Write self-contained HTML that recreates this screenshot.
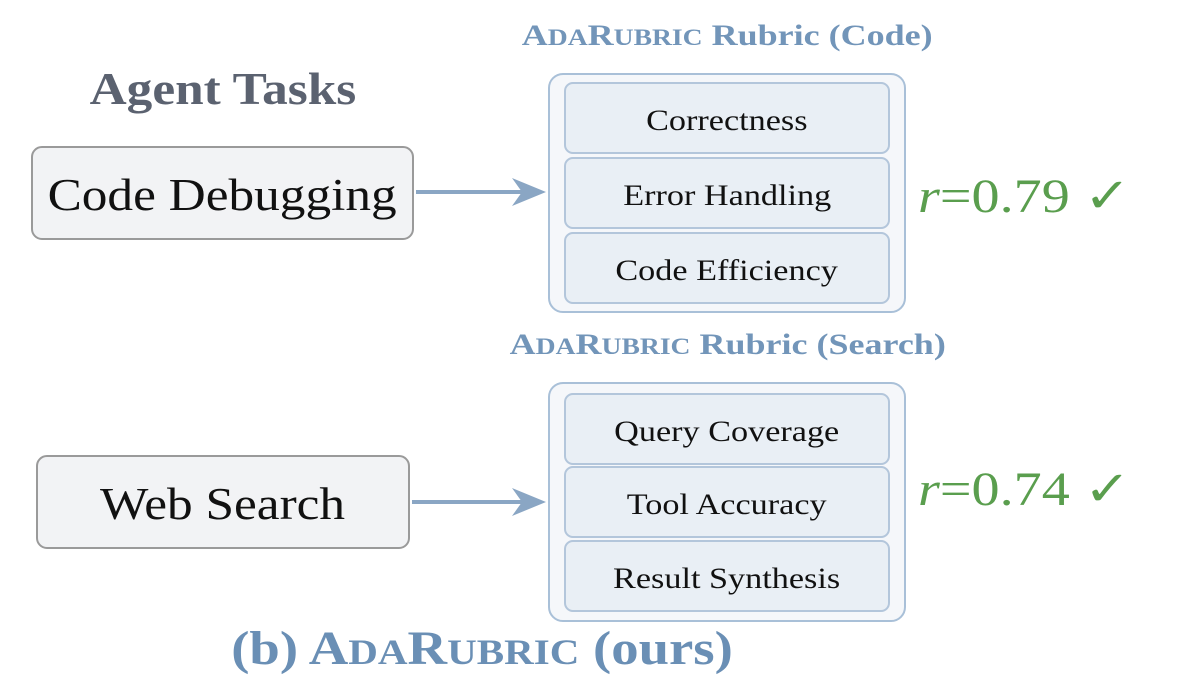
<!DOCTYPE html>
<html><head><meta charset="utf-8"><style>
body{margin:0;width:1179px;height:690px;background:#fff;position:relative;overflow:hidden;font-family:"Liberation Serif",serif}
.a{position:absolute}
.s{display:inline-block;transform:scaleX(1.14);transform-origin:center}
.task{position:absolute;background:#f2f3f5;border:2px solid #9a9a9a;border-radius:11px;display:flex;align-items:center;justify-content:center;font-size:45px;color:#111;box-sizing:border-box;padding-top:3px}
.outer{position:absolute;left:548px;width:358px;height:240px;background:#f5f7fa;border:2px solid #a9c0d8;border-radius:15px;box-sizing:border-box}
.item{position:absolute;left:564px;width:326px;height:72px;background:#e9eff5;border:2px solid #b3c6db;border-radius:9px;box-sizing:border-box;display:flex;align-items:center;justify-content:center;font-size:30px;color:#111;padding-top:5px}
.title{position:absolute;left:440px;width:575px;text-align:center;font-weight:bold;color:#7295b9;font-size:30px;white-space:nowrap}
.title .s{transform:scaleX(1.2)}
.sc{font-size:23px}
.r{position:absolute;left:918px;font-size:48px;color:#5a9e4e;white-space:nowrap}
.r .s{transform:scaleX(1.17);transform-origin:left}
</style></head><body>
<div class="a" style="left:0;width:445px;top:63px;text-align:center;font-size:45px;font-weight:bold;color:#5b6270"><span class="s">Agent Tasks</span></div>
<div class="task" style="left:31px;top:146px;width:383px;height:94px"><span class="s">Code Debugging</span></div>
<div class="task" style="left:36px;top:455px;width:374px;height:94px"><span class="s">Web Search</span></div>
<svg class="a" style="left:0;top:0" width="1179" height="690">
<g stroke="#8aa6c4" stroke-width="4" fill="none">
<line x1="416" y1="192" x2="530" y2="192"/>
<line x1="412" y1="502" x2="530" y2="502"/>
</g>
<g fill="#8aa6c4">
<path d="M546,192 L512,178 L522,192 L512,206 Z"/>
<path d="M546,502 L512,488 L522,502 L512,516 Z"/>
</g></svg>
<div class="title" style="top:19px"><span class="s">A<span class="sc">DA</span>R<span class="sc">UBRIC</span> Rubric (Code)</span></div>
<div class="outer" style="top:73px"></div>
<div class="item" style="top:82px"><span class="s">Correctness</span></div>
<div class="item" style="top:157px"><span class="s">Error Handling</span></div>
<div class="item" style="top:232px"><span class="s">Code Efficiency</span></div>
<div class="r" style="top:168px"><span class="s"><i>r</i>=0.79 ✓</span></div>
<div class="title" style="top:328px"><span class="s">A<span class="sc">DA</span>R<span class="sc">UBRIC</span> Rubric (Search)</span></div>
<div class="outer" style="top:382px"></div>
<div class="item" style="top:393px"><span class="s">Query Coverage</span></div>
<div class="item" style="top:466px"><span class="s">Tool Accuracy</span></div>
<div class="item" style="top:540px"><span class="s">Result Synthesis</span></div>
<div class="r" style="top:461px"><span class="s"><i>r</i>=0.74 ✓</span></div>
<div class="a" style="left:180px;width:605px;top:621px;text-align:center;font-size:48px;font-weight:bold;color:#6a8fb5;white-space:nowrap"><span class="s">(b) A<span style="font-size:36px">DA</span>R<span style="font-size:36px">UBRIC</span> (ours)</span></div>
</body></html>
